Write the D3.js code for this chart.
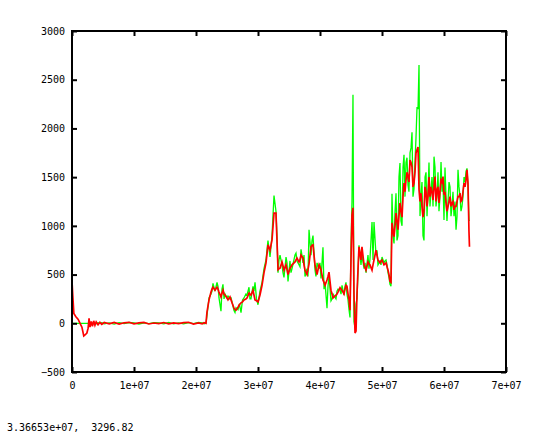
<!DOCTYPE html>
<html><head><meta charset="utf-8">
<script src="https://cdn.jsdelivr.net/npm/d3@7"></script>
<style>
html,body{margin:0;padding:0;background:#fff;}
svg{display:block;}
text{font-family:"DejaVu Sans Mono",monospace;font-size:10px;fill:#000;}
</style></head><body>
<script>
// x positions in units of 1e6 (millions)
const xMillions = [
 0,0.15,0.3,0.6,1.0,1.3,1.6,1.9,2.1,2.4,2.6,2.75,2.9,3.1,3.3,3.5,3.7,3.9,4.2,4.5,4.8,5.2,
 6.0,6.8,7.6,8.4,9.2,10.0,10.8,11.6,12.4,13.2,14.0,14.8,15.6,16.4,17.2,18.0,18.8,19.6,20.4,21.0,21.3,
 21.61,21.77,22.10,22.42,22.74,23.06,23.39,23.71,24.03,24.35,24.68,25.16,25.48,25.81,26.13,26.45,26.77,27.26,27.74,28.23,28.55,28.87,29.19,29.52,30.00,30.32,30.65,30.97,31.29,31.61,31.94,32.26,32.58,32.90,33.06,33.23,33.55,33.87,34.19,34.52,34.84,35.16,35.48,35.97,36.29,36.61,36.94,37.26,37.58,37.90,38.23,38.55,38.87,39.19,39.52,39.84,40.16,40.48,40.81,41.13,41.45,41.77,42.10,42.58,42.90,43.23,43.55,43.87,44.19,44.52,44.68,44.84,45.00,45.16,45.32,45.48,45.65,45.81,45.97,46.29,46.61,46.77,47.10,47.42,47.74,48.06,48.39,48.71,49.03,49.35,49.68,50.00,50.32,50.65,50.97,51.29,51.45,51.61,51.94,52.26,52.58,52.90,53.23,53.55,53.87,54.19,54.52,54.84,55.16,55.48,55.65,55.81,55.97,56.29,56.61,56.94,57.26,57.58,57.90,58.23,58.39,58.55,58.87,59.19,59.52,59.84,60.00,60.32,60.65,60.97,61.29,61.61,61.94,62.26,62.58,62.90,63.23,63.55,63.71,63.87,64.03,64.11
];
const greenValues = [
 0,0,0,0,0,0,0,0,0,0,0,0,0,5,-5,5,0,-5,5,0,5,-5,
 5,-8,6,-4,8,4,-7,5,-3,6,4,-5,8,-6,4,-5,6,-4,9,4,-6,
 0,80,260,300,410,330,420,260,125,400,300,280,250,220,130,160,140,110,260,290,370,250,380,420,190,330,420,560,650,850,680,900,1310,1150,900,520,700,600,470,680,430,640,560,700,640,600,760,620,480,560,960,700,900,550,620,560,460,780,420,155,480,230,300,250,350,340,390,290,420,240,140,60,800,1250,2345,20,-50,200,250,800,600,700,560,520,700,660,1040,1040,700,600,640,680,620,650,520,400,380,1330,820,1335,900,1645,1000,1730,1650,1420,1750,1960,1380,1900,2220,2200,2650,1300,900,1500,1100,1650,1350,1200,1710,1600,1300,1150,1655,1450,1060,1300,1250,1400,1200,1100,960,1575,1300,1200,1500,1560,1590,1400,1060,1050
];
const redValues = [
 430,260,100,70,40,0,-40,-130,-120,-100,-50,50,-40,20,-30,25,-20,15,-15,10,-10,8,
 -5,8,-8,5,10,-6,4,9,-7,3,-4,8,-6,5,-3,6,10,-8,4,-5,6,
 0,115,240,320,370,340,370,320,270,340,290,240,270,210,155,135,165,210,240,260,310,290,340,240,220,290,390,520,620,805,750,855,1130,1130,855,550,565,630,545,600,500,565,600,630,670,630,700,670,545,500,610,785,805,600,500,600,550,445,390,445,525,340,260,290,320,365,340,300,390,300,240,135,650,1110,1185,300,-100,-80,310,785,650,785,600,545,630,600,545,650,750,650,620,650,600,620,545,430,420,1030,890,1130,960,1235,1090,1440,1470,1505,1675,1605,1440,1745,1780,1810,1370,1335,1090,1400,1200,1500,1400,1265,1400,1505,1370,1235,1470,1505,1320,1235,1200,1300,1235,1165,1200,1300,1335,1265,1440,1470,1575,1440,940,785
];
// additional in-between samples (millions, green, red)
const xMillionsExtra = [22.58,23.55,24.19,24.52,25.00,25.65,26.29,27.00,27.50,28.05,28.70,29.35,29.76,
 33.39,34.03,34.68,35.32,36.13,36.77,37.42,38.06,38.71,39.35,40.00,40.65,41.29,41.94,42.74,43.39,44.03,44.35,
 47.26,47.90,48.55,49.19,49.84,50.48,50.81,51.13,
 51.78,52.10,52.42,52.74,53.06,53.39,53.71,54.03,54.35,54.68,55.00,55.32,56.13,56.45,56.77,57.10,57.42,57.74,58.06,58.71,59.03,59.35,59.68,60.16,60.48,60.81,61.13,61.45,61.77,62.10,62.42,62.74,63.06,63.39];
const greenExtra = [330,380,350,250,260,260,110,200,240,300,250,330,250,
 650,520,620,520,720,580,700,480,850,480,620,350,380,250,330,300,380,300,
 620,560,650,750,600,640,600,470,
 900,1150,850,1500,1050,1600,1300,1700,1350,1800,1300,1650,1100,1450,850,1550,1350,1200,1500,1200,1550,1300,1350,1600,1050,1450,1100,1350,1250,1100,1400,1150,1300,1450];
const redExtra = [350,350,310,300,260,240,140,190,220,250,300,290,230,
 560,590,550,580,650,650,600,550,800,550,580,420,480,300,300,350,350,380,
 570,610,600,700,640,610,580,500,
 950,1000,1050,1100,1150,1300,1350,1550,1450,1650,1400,1550,1250,1200,1150,1350,1300,1300,1350,1250,1400,1350,1450,1350,1150,1250,1200,1250,1200,1250,1300,1250,1350,1400];
const xTickValues = [0,1e7,2e7,3e7,4e7,5e7,6e7,7e7];
const xTickLabels = ["0","1e+07","2e+07","3e+07","4e+07","5e+07","6e+07","7e+07"];
const yTickValues = [-500,0,500,1000,1500,2000,2500,3000];
const readout = "3.36653e+07,  3296.82";

const W=560,H=433;
const L=72,R=506,T=31,B=372;
const svg=d3.select("body").append("svg").attr("width",W).attr("height",H);
const x=d3.scaleLinear().domain([0,7e7]).range([L,R]);
const y=d3.scaleLinear().domain([-500,3000]).range([B,T]);

function build(xs,vals,xe,ve){
  const a=[];
  xs.forEach((m,i)=>{if(i<vals.length)a.push({x:m*1e6,y:vals[i]});});
  xe.forEach((m,i)=>{if(i<ve.length)a.push({x:m*1e6,y:ve[i]});});
  return a.sort((p,q)=>p.x-q.x);
}
const green = build(xMillions,greenValues,xMillionsExtra,greenExtra);
const red = build(xMillions,redValues,xMillionsExtra,redExtra);

const line=d3.line().x(d=>x(d.x)).y(d=>y(d.y));
svg.append("path").datum(green).attr("d",line).attr("fill","none").attr("stroke","#00ff00").attr("stroke-width",1.3);
svg.append("path").datum(red).attr("d",line).attr("fill","none").attr("stroke","#ff0000").attr("stroke-width",1.7);

const fmtX=v=>xTickLabels[xTickValues.indexOf(v)];
function styleAxis(g){g.select(".domain").remove();g.selectAll(".tick line").attr("stroke","#000").attr("stroke-width",2);}
svg.append("g").attr("transform",`translate(0,${B})`)
  .call(d3.axisBottom(x).tickValues(xTickValues).tickFormat(fmtX).tickSizeInner(-5).tickSizeOuter(0).tickPadding(10))
  .call(styleAxis).call(g=>g.selectAll("text").attr("font-family",null).attr("font-size",null));
svg.append("g").attr("transform",`translate(0,${T})`)
  .call(d3.axisTop(x).tickValues(xTickValues).tickFormat("").tickSizeInner(-5).tickSizeOuter(0))
  .call(styleAxis);
svg.append("g").attr("transform",`translate(${L},0)`)
  .call(d3.axisLeft(y).tickValues(yTickValues).tickFormat(d3.format("d")).tickSizeInner(-5).tickSizeOuter(0).tickPadding(7))
  .call(styleAxis).call(g=>g.selectAll("text").attr("font-family",null).attr("font-size",null));
svg.append("g").attr("transform",`translate(${R},0)`)
  .call(d3.axisRight(y).tickValues(yTickValues).tickFormat("").tickSizeInner(-5).tickSizeOuter(0))
  .call(styleAxis);

svg.append("rect").attr("x",L).attr("y",T).attr("width",R-L).attr("height",B-T)
  .attr("fill","none").attr("stroke","#000").attr("stroke-width",2);

svg.append("text").attr("x",7).attr("y",431).style("white-space","pre").text(readout);
</script>
</body></html>
